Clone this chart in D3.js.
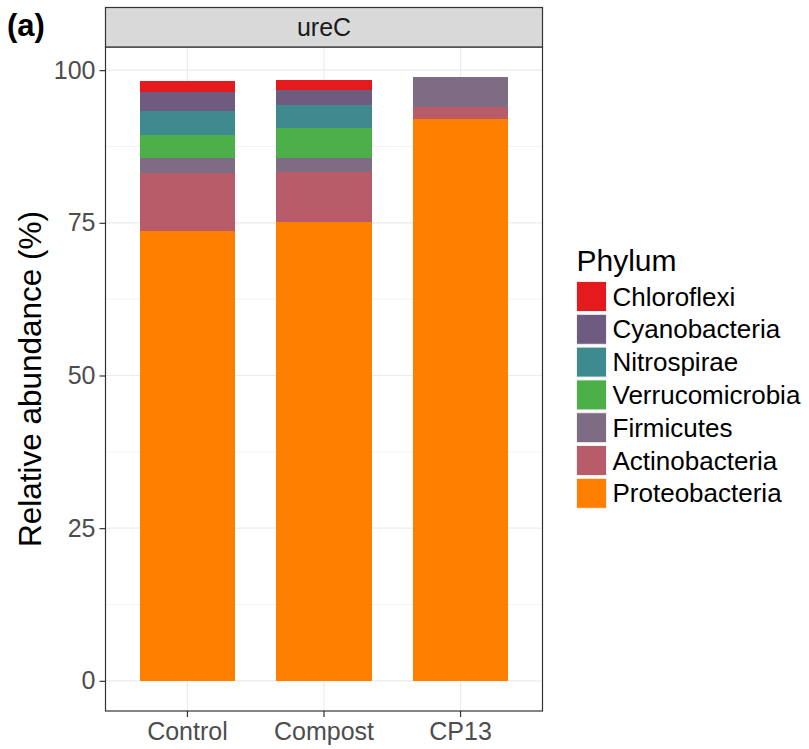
<!DOCTYPE html>
<html>
<head>
<meta charset="utf-8">
<script src="https://cdn.jsdelivr.net/npm/d3@7"></script>
<style>
  body { margin: 0; background: #fff; }
  svg text { font-family: "Liberation Sans", Arial, sans-serif; }
</style>
</head>
<body>
<div id="chart"></div>
<script>
var width = 809;
var height = 749;

var categories = ['Control', 'Compost', 'CP13'];
// legend order (top of stack first)
var phyla = ['Chloroflexi', 'Cyanobacteria', 'Nitrospirae', 'Verrucomicrobia', 'Firmicutes', 'Actinobacteria', 'Proteobacteria'];

var chloroflexi     = [1.8, 1.7, 0];
var cyanobacteria   = [3.1, 2.4, 0];
var nitrospirae     = [4.0, 3.8, 0];
var verrucomicrobia = [3.7, 4.9, 0];
var firmicutes      = [2.5, 2.2, 4.85];
var actinobacteria  = [9.4, 8.2, 2.0];
var proteobacteria  = [73.7, 75.2, 92.0];

var yTicks = [0, 25, 50, 75, 100];

var colorArray = ['#E41A1C', '#6F5A80', '#3F8A8F', '#4DAF4A', '#7E6C84', '#B85C6A', '#FF8000'];

var valuesByPhylum = {
    Chloroflexi: chloroflexi,
    Cyanobacteria: cyanobacteria,
    Nitrospirae: nitrospirae,
    Verrucomicrobia: verrucomicrobia,
    Firmicutes: firmicutes,
    Actinobacteria: actinobacteria,
    Proteobacteria: proteobacteria,
};

var data = categories.map((c, i) => {
    var row = { group: c };
    phyla.forEach((p) => { row[p] = valuesByPhylum[p][i]; });
    return row;
});

// stack from bottom (Proteobacteria) to top (Chloroflexi)
var stackKeys = phyla.slice().reverse();
var series = d3.stack().keys(stackKeys).order(d3.stackOrderNone).offset(d3.stackOffsetNone)(data);
var color = d3.scaleOrdinal().domain(phyla).range(colorArray);

var panel = { left: 105.5, right: 542.5, top: 47, bottom: 711 };
var stripTop = 7.5;

var svg = d3.select('#chart')
    .append('svg')
    .attr('width', width)
    .attr('height', height);

var x = d3.scaleBand()
    .domain(categories)
    .range([panel.left, panel.right])
    .paddingInner(0.3)
    .paddingOuter(0.25);

var yMax = d3.max(series[series.length - 1], (d) => d[1]);
var yExp = yMax * 0.05;
var y = d3.scaleLinear()
    .domain([-yExp, yMax + yExp])
    .range([panel.bottom, panel.top]);

// grid lines
var minorTicks = yTicks.slice(0, -1).map((t, i) => (t + yTicks[i + 1]) / 2);
svg.append('g').selectAll('line')
    .data(minorTicks)
    .enter().append('line')
    .attr('x1', panel.left).attr('x2', panel.right)
    .attr('y1', (d) => y(d)).attr('y2', (d) => y(d))
    .attr('stroke', '#EBEBEB').attr('stroke-width', 0.6);

svg.append('g').selectAll('line')
    .data(yTicks)
    .enter().append('line')
    .attr('x1', panel.left).attr('x2', panel.right)
    .attr('y1', (d) => y(d)).attr('y2', (d) => y(d))
    .attr('stroke', '#EBEBEB').attr('stroke-width', 1.2);

svg.append('g').selectAll('line')
    .data(categories)
    .enter().append('line')
    .attr('x1', (d) => x(d) + x.bandwidth() / 2).attr('x2', (d) => x(d) + x.bandwidth() / 2)
    .attr('y1', panel.top).attr('y2', panel.bottom)
    .attr('stroke', '#EBEBEB').attr('stroke-width', 1.2);

// bars
svg.append('g')
    .attr('shape-rendering', 'crispEdges')
    .selectAll('g')
    .data(series)
    .enter()
    .append('g')
    .attr('fill', (d) => color(d.key))
    .selectAll('rect')
    .data((d) => d.filter((v) => v[1] - v[0] > 0))
    .enter()
    .append('rect')
    .attr('x', (d) => x(d.data.group))
    .attr('y', (d) => y(d[1]))
    .attr('width', x.bandwidth())
    .attr('height', (d) => y(d[0]) - y(d[1]));

// panel border
svg.append('rect')
    .attr('x', panel.left).attr('y', panel.top)
    .attr('width', panel.right - panel.left).attr('height', panel.bottom - panel.top)
    .attr('fill', 'none').attr('stroke', '#333333').attr('stroke-width', 1.2);

// facet strip
svg.append('rect')
    .attr('x', panel.left).attr('y', stripTop)
    .attr('width', panel.right - panel.left).attr('height', panel.top - stripTop)
    .attr('fill', '#D9D9D9').attr('stroke', '#333333').attr('stroke-width', 1.2);
svg.append('text')
    .attr('x', (panel.left + panel.right) / 2)
    .attr('y', 36)
    .attr('text-anchor', 'middle')
    .attr('font-size', 25)
    .attr('fill', '#1A1A1A')
    .text('ureC');

// axes
var yAxis = svg.append('g')
    .attr('transform', `translate(${panel.left},0)`)
    .call(d3.axisLeft(y).tickValues(yTicks).tickSize(6).tickPadding(4));
yAxis.select('.domain').remove();
yAxis.selectAll('line').attr('stroke', '#333333').attr('stroke-width', 1.2);
yAxis.selectAll('text').attr('font-size', 25).attr('fill', '#4D4D4D')
    .attr('font-family', '"Liberation Sans", Arial, sans-serif');

var xAxis = svg.append('g')
    .attr('transform', `translate(0,${panel.bottom})`)
    .call(d3.axisBottom(x).tickSize(6).tickPadding(5));
xAxis.select('.domain').remove();
xAxis.selectAll('line').attr('stroke', '#333333').attr('stroke-width', 1.2);
xAxis.selectAll('text').attr('font-size', 25).attr('fill', '#4D4D4D')
    .attr('font-family', '"Liberation Sans", Arial, sans-serif');

// y title
svg.append('text')
    .attr('transform', `translate(41,${(panel.top + panel.bottom) / 2}) rotate(-90)`)
    .attr('text-anchor', 'middle')
    .attr('font-size', 31.5)
    .attr('fill', '#000')
    .text('Relative abundance (%)');

// panel tag
svg.append('text')
    .attr('x', 7).attr('y', 36)
    .attr('font-size', 31)
    .attr('font-weight', 'bold')
    .attr('fill', '#000')
    .text('(a)');

// legend
var legend = svg.append('g').attr('transform', 'translate(576.5,0)');
legend.append('text')
    .attr('x', 0).attr('y', 271)
    .attr('font-size', 30)
    .attr('fill', '#000')
    .text('Phylum');

var rowH = 32.8;
var item = legend.selectAll('.legend')
    .data(phyla)
    .enter().append('g')
    .attr('class', 'legend')
    .attr('transform', (d, i) => `translate(0,${281.5 + i * rowH})`);
item.append('rect')
    .attr('width', 30).attr('height', 30)
    .attr('fill', (d) => color(d))
    .attr('stroke', '#F2F2F2').attr('stroke-width', 1);
item.append('text')
    .attr('x', 36).attr('y', 24)
    .attr('font-size', 26)
    .attr('fill', '#000')
    .text((d) => d);
</script>
</body>
</html>
